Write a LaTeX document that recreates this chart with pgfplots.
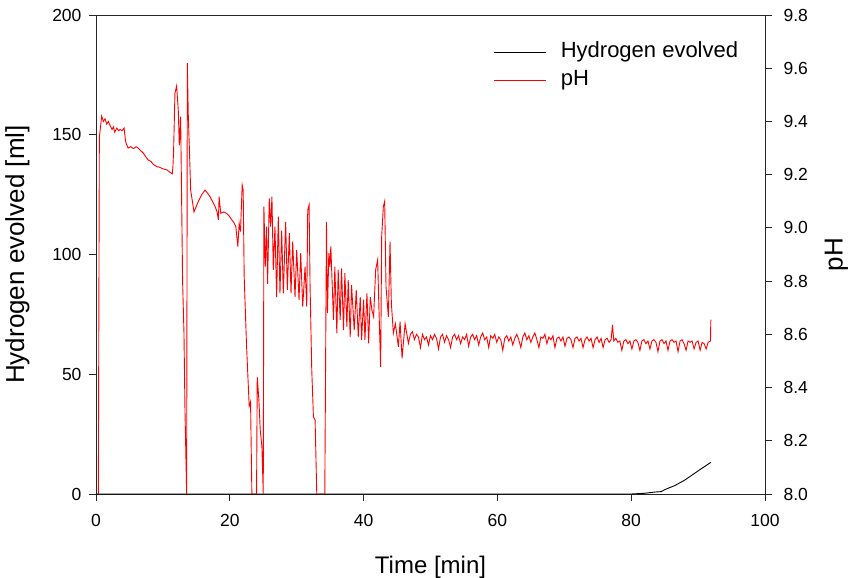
\documentclass[border=0pt]{standalone}
\usepackage{pgfplots}
\pgfplotsset{compat=1.18}
\usepackage{fontspec}
\setmainfont{Liberation Sans}
\begin{document}
\begin{tikzpicture}
\pgfplotsset{
  every axis/.append style={
    width=669pt, height=479pt, scale only axis,
    xmin=0, xmax=100,
    tick align=outside,
    major tick length=7pt,
    axis line style={line width=0.9pt, black!85},
    every tick/.style={line width=0.9pt, black!85},
    tick label style={font=\fontsize{17.5}{20}\selectfont},
    /pgf/number format/assume math mode=true,
  }
}
\begin{axis}[
  ymin=0, ymax=200,
  xtick={0,20,40,60,80,100},
  ytick={0,50,100,150,200},
  xtick pos=bottom, ytick pos=left,
  xticklabel style={yshift=-10pt},
  yticklabel style={xshift=-4pt},
  xlabel={Time [min]},
  ylabel={Hydrogen evolved [ml]},
  xlabel style={font=\fontsize{24}{27}\selectfont, yshift=-22pt},
  ylabel style={font=\fontsize{26}{29}\selectfont, yshift=16pt},
]
\addplot[black, line width=0.9pt] coordinates {
(0,0) (80,0) (82,0.3) (83.5,0.8) (84.5,1.0) (85,1.8) (86.5,3.5) (88,5.8) (89.3,8.3) (90.6,10.8) (91.9,13.2)
};
\end{axis}
\begin{axis}[
  ymin=8.0, ymax=9.8,
  axis x line=none,
  axis y line*=right,
  ytick={8.0,8.2,8.4,8.6,8.8,9.0,9.2,9.4,9.6,9.8},
  yticklabel style={xshift=8pt, /pgf/number format/.cd, fixed, fixed zerofill, precision=1},
  ylabel={pH},
  ylabel style={font=\fontsize{26}{29}\selectfont, yshift=-10pt},
  legend style={draw=none, fill=none, at={(0.59,0.947)}, anchor=north west,
    font=\fontsize{22}{25}\selectfont,
    nodes={inner sep=0pt, text height=15pt, text depth=4pt},
    row sep=9.3pt},
  legend cell align=left,
  legend image code/.code={\draw[#1, line width=0.9pt] (0pt,0pt) -- (52pt,0pt);},
]
\addlegendimage{black, line width=0.9pt}
\addlegendentry{\hspace{14pt}Hydrogen evolved}
\addplot[red, line width=0.9pt] coordinates {
(0.35,8.00) (0.50,9.34) (0.85,9.42) (1.1,9.40) (1.35,9.41) (1.6,9.39) (1.85,9.40) (2.1,9.385) (2.4,9.37) (2.6,9.38) (2.8,9.36) (3.1,9.375) (3.4,9.365) (3.6,9.37) (3.9,9.365) (4.2,9.375) (4.4,9.33) (4.5,9.318) (4.8,9.30) (5.2,9.305) (5.6,9.298) (6.0,9.305) (6.3,9.30) (6.7,9.29) (7.1,9.28) (7.5,9.265) (7.8,9.255) (8.2,9.25) (8.6,9.238) (9.1,9.23) (9.5,9.228) (10.0,9.222) (10.6,9.218) (11.0,9.21) (11.4,9.203)
(11.5,9.23) (11.6,9.29) (11.8,9.506) (12.05,9.533) (12.3,9.443) (12.45,9.31) (12.65,9.418) (12.95,8.793) (13.15,8.605) (13.3,8.316) (13.55,8.00) (13.65,9.619) (13.8,9.418) (13.95,9.305) (14.15,9.142) (14.65,9.06) (15.3,9.10) (15.8,9.125) (16.3,9.142) (16.7,9.13) (17.05,9.117) (17.4,9.10) (17.8,9.08) (18.1,9.06) (18.3,9.03) (18.4,9.117) (18.65,9.055) (19.1,9.06) (19.5,9.055) (19.9,9.045) (20.3,9.03) (20.6,9.02) (20.9,9.005) (21.2,8.93) (21.4,9.017) (21.6,8.986) (21.85,9.161) (22.0,9.142) (22.15,8.817) (22.5,8.56) (22.9,8.33) (23.1,8.347) (23.3,8.0)
(24.0,8.0) (24.1,8.44) (24.35,8.353) (24.55,8.24) (24.8,8.178) (25.0,8.0) (25.1,9.08) (25.3,8.854) (25.5,9.005) (25.65,8.79) (25.9,9.111) (26.1,9.005) (26.3,9.117) (26.5,8.842) (26.75,9.005) (27.0,8.74) (27.25,9.042) (27.5,8.754) (27.75,8.99) (28.0,8.754) (28.35,9.023) (28.6,8.767) (28.9,8.98) (29.15,8.754) (29.4,8.948) (29.75,8.74) (30.0,8.917) (30.35,8.73) (30.6,8.905) (30.9,8.704) (31.25,8.854) (31.5,8.704) (31.65,9.067) (31.85,9.086) (32.0,8.78) (32.25,8.466) (32.5,8.29) (32.75,8.278) (33.0,8.0)
(34.2,8.0) (34.45,9.023) (34.6,8.68) (34.8,8.905) (34.95,8.854) (35.1,8.93) (35.5,8.654) (35.7,8.854) (36.0,8.604) (36.2,8.842) (36.5,8.654) (36.7,8.848) (37.0,8.616) (37.2,8.83) (37.5,8.629) (37.7,8.804) (38.0,8.59) (38.2,8.785) (38.6,8.616) (38.9,8.767) (39.2,8.59) (39.5,8.74) (39.7,8.579) (40.0,8.73) (40.2,8.579) (40.5,8.754) (40.75,8.566) (41.0,8.74) (41.25,8.69) (41.5,8.666) (41.8,8.842) (42.1,8.88) (42.3,8.69) (42.55,8.478) (42.7,8.967) (42.95,9.08) (43.15,9.10) (43.35,8.78) (43.7,8.666) (43.95,8.948) (44.15,8.717) (44.45,8.604) (44.75,8.64) (45.2,8.553) (45.45,8.648) (45.75,8.51) (46.2,8.64) (46.7,8.566)
(47.0,8.60) (47.3,8.61) (47.6,8.58) (47.9,8.60) (48.2,8.59) (48.5,8.55) (48.8,8.60) (49.1,8.58) (49.4,8.59) (49.7,8.56) (50.0,8.595) (50.3,8.58) (50.6,8.60) (50.9,8.585) (51.2,8.545) (51.5,8.59) (51.8,8.60) (52.1,8.57) (52.4,8.595) (52.7,8.58) (53.0,8.55) (53.3,8.59) (53.6,8.60) (53.9,8.58) (54.2,8.595) (54.5,8.565) (54.8,8.59) (55.1,8.58) (55.4,8.60) (55.7,8.555) (56.0,8.59)
(56.3,8.60) (56.6,8.58) (56.9,8.595) (57.2,8.56) (57.5,8.59) (57.8,8.605) (58.1,8.58) (58.4,8.59) (58.7,8.55) (59.0,8.595) (59.3,8.585) (59.6,8.60) (59.9,8.57) (60.2,8.59) (60.5,8.58) (60.8,8.54) (61.1,8.585) (61.4,8.595) (61.7,8.575) (62.0,8.59) (62.3,8.56) (62.6,8.585) (62.9,8.60) (63.2,8.58) (63.5,8.55) (63.8,8.59) (64.1,8.605) (64.4,8.58) (64.7,8.595) (65.0,8.57) (65.3,8.59) (65.6,8.605) (65.9,8.58) (66.2,8.55) (66.5,8.59) (66.8,8.585) (67.1,8.60) (67.4,8.565) (67.7,8.59) (68.0,8.58) (68.3,8.595) (68.6,8.55) (68.9,8.585) (69.2,8.59) (69.5,8.575) (69.8,8.59) (70.1,8.555) (70.4,8.585) (70.7,8.59) (71.0,8.58) (71.3,8.55) (71.6,8.585) (71.9,8.59) (72.2,8.575) (72.5,8.585) (72.8,8.55) (73.1,8.58) (73.4,8.59) (73.7,8.575) (74.0,8.585) (74.3,8.55) (74.6,8.58) (74.9,8.59) (75.2,8.57) (75.5,8.585) (75.8,8.55) (76.1,8.58) (76.4,8.585) (76.7,8.57) (77.0,8.58) (77.2,8.635) (77.4,8.575) (77.7,8.585) (78.0,8.57) (78.3,8.575) (78.6,8.54) (78.9,8.575) (79.2,8.58) (79.5,8.565) (79.8,8.575) (80.1,8.545) (80.4,8.575) (80.7,8.58) (81.0,8.57) (81.3,8.54) (81.6,8.575) (81.9,8.58) (82.2,8.565) (82.5,8.575) (82.8,8.545) (83.1,8.575) (83.4,8.58) (83.7,8.57) (84.0,8.535) (84.3,8.575) (84.6,8.58) (84.9,8.565) (85.2,8.575) (85.5,8.54) (85.8,8.575) (86.1,8.58) (86.4,8.57) (86.7,8.575) (87.0,8.535) (87.3,8.575) (87.6,8.58) (87.9,8.565) (88.2,8.54) (88.5,8.575) (88.8,8.57) (89.1,8.575) (89.4,8.545) (89.7,8.57) (90.0,8.575) (90.3,8.54) (90.6,8.57) (90.9,8.565) (91.2,8.545) (91.5,8.57) (91.85,8.575) (91.9,8.655)
};
\addlegendentry{\hspace{14pt}pH}
\end{axis}
\pgfresetboundingbox
\path ([xshift=-96pt,yshift=-84pt]current axis.south west) rectangle ([xshift=86pt,yshift=15pt]current axis.north east);
\end{tikzpicture}
\end{document}
